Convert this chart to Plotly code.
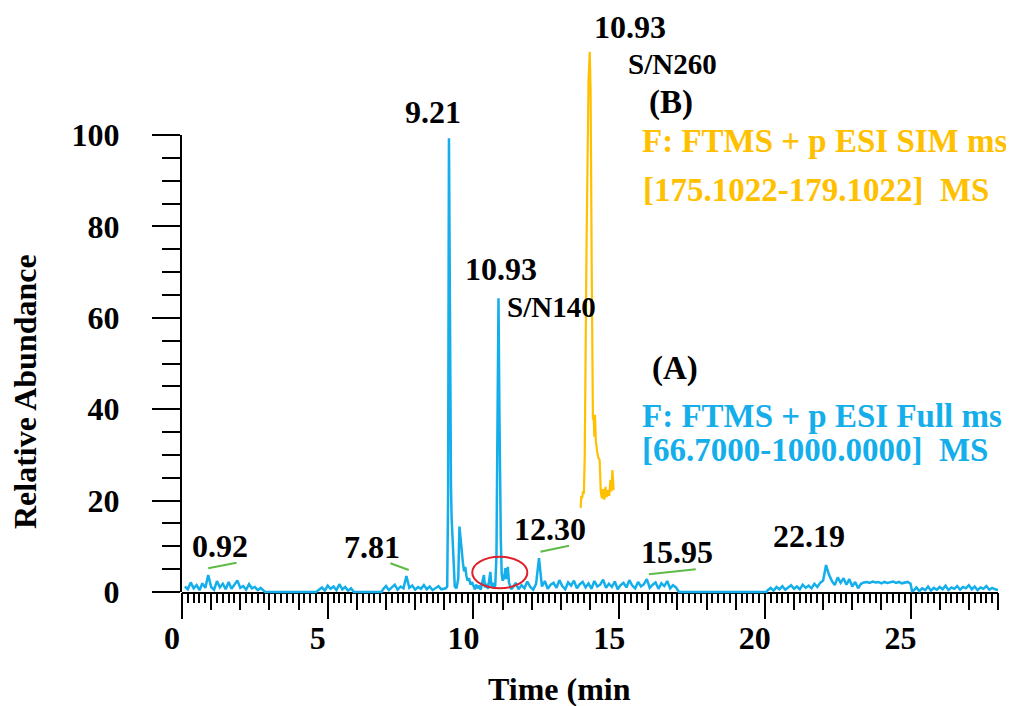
import plotly.graph_objects as go

# ---------------- data ----------------
# blue trace: Full ms TIC (A). Noise segments: start time, step 0.1 min, values
noise_a_start = 0.1
noise_a = [1.2, 0.6, 2.1, 0.8, 1.5, 0.4, 1.9, 0.9, 3.7, 1.1, 0.5, 2.4, 1.0, 1.8,
           0.6, 2.2, 0.7, 1.6, 2.5, 0.9, 1.3, 0.5, 1.7, 0.8, 1.1, 0.4, 0.9, 0.3]
noise_b_start = 4.7
noise_b = [0.5, 1.0, 0.3, 1.4, 0.7, 1.2, 0.4, 1.7, 0.6, 1.1, 0.3, 0.8]
noise_c_start = 6.9
noise_c = [0.6, 1.3, 0.4, 1.0, 1.6, 0.5, 1.2, 0.8, 3.5, 0.9, 1.4, 0.5, 1.1, 0.7,
           1.5, 0.6, 1.2, 0.4, 0.9, 1.3, 0.6, 0.8]
noise_d_start = 11.35
noise_d = [1.0, 2.0, 0.6, 1.5, 0.8, 2.3, 1.1, 0.5, 1.8, 7.4, 1.2, 2.4, 0.7, 1.6,
           2.0, 0.9, 2.6, 1.3, 0.6, 2.1, 1.4, 2.5, 0.8, 1.7, 2.2, 1.0, 1.9, 0.7,
           2.4, 1.2, 1.6, 2.7, 0.9, 1.8, 1.1, 2.3, 0.6, 1.5, 2.0, 1.0, 2.6, 1.4,
           0.8, 2.2, 1.2, 1.7, 2.8, 0.9, 1.6, 2.1, 0.7, 1.9, 1.3, 2.4, 0.8, 1.5, 1.0]
noise_e_start = 20.1
noise_e = [0.4, 0.9, 0.3, 1.1, 0.6, 1.3, 0.5, 1.0, 1.5, 0.7, 1.2, 0.6, 1.6, 0.9,
           1.4, 0.8, 1.8, 1.1, 2.0, 2.5, 5.9, 3.8, 2.4, 1.5, 3.2, 2.0, 3.0, 1.6,
           2.8, 1.2, 2.2, 0.8]
noise_f_start = 23.3
noise_f = [1.8, 2.1, 2.2, 2.0, 2.3, 2.1, 2.2, 1.9, 2.2, 2.0, 2.1, 2.3, 2.0, 2.2,
           1.9, 2.1, 2.2, 1.8]
noise_g_start = 25.1
noise_g = [0.3, 1.0, 0.2, 0.8, 0.4, 1.2, 0.3, 0.9, 0.5, 1.1, 0.6, 1.4, 0.4, 1.0,
           0.7, 1.3, 0.5, 1.1, 0.8, 1.5, 0.6, 1.2, 0.4, 1.0, 0.7, 1.3, 0.5, 0.9,
           0.6, 0.4]
noise_step = 0.1

# flat (zero-signal) stretches
gap_times = [2.85, 4.6, 5.9, 6.85, 17.05, 20.05, 25.05]
gap_values = [0, 0, 0, 0, 0, 0, 0.2]

# main peaks region 9.0 - 11.3 min
peak_times = [9.05, 9.10, 9.13, 9.16, 9.19, 9.21, 9.23, 9.25, 9.28, 9.31, 9.36,
              9.42, 9.48, 9.52, 9.56, 9.60, 9.64, 9.68, 9.72, 9.76, 9.80, 9.85,
              9.90, 9.95, 10.00, 10.05, 10.10, 10.15, 10.20, 10.25, 10.30, 10.36,
              10.40, 10.45, 10.50, 10.55, 10.58, 10.62, 10.66, 10.70, 10.75,
              10.79, 10.83, 10.86, 10.89, 10.91, 10.94, 10.97, 11.00, 11.05,
              11.10, 11.14, 11.18, 11.22, 11.26, 11.30]
peak_values = [0.8, 1.2, 20.0, 99.3, 60.0, 24.5, 23.0, 16.5, 12.9, 9.2, 1.2,
               0.8, 3.0, 14.3, 11.0, 9.2, 6.3, 4.5, 5.5, 3.5, 2.5, 3.0,
               1.6, 2.2, 1.2, 0.6, 1.6, 0.8, 1.4, 0.5, 2.0, 3.7,
               1.0, 1.8, 0.7, 2.5, 4.4, 1.2, 2.0, 0.8, 1.5,
               8.0, 50.0, 64.3, 40.0, 16.5, 11.4, 4.0, 2.5, 3.0,
               5.2, 2.8, 5.5, 2.0, 1.0, 0.6]

# orange trace: SIM ms (B), drawn offset as an inset
sim_times = [13.68, 13.70, 13.73, 13.76, 13.79, 13.82, 13.88, 13.95, 13.99, 14.02,
             14.06, 14.10, 14.13, 14.15, 14.17, 14.20, 14.24, 14.28, 14.33, 14.37,
             14.41, 14.45, 14.49, 14.53, 14.57, 14.62, 14.66, 14.70, 14.73, 14.77,
             14.81]
sim_values = [18.4, 21.0, 20.5, 22.0, 21.5, 30.0, 75.0, 112.0, 118.2, 110.0,
              70.0, 38.0, 37.6, 34.0, 38.8, 33.0, 31.0, 29.5, 28.9, 22.0,
              20.5, 22.5, 20.2, 23.0, 20.8, 22.3, 21.0, 24.5, 22.0, 26.7,
              22.3]

x_ticks_major = [0, 5, 10, 15, 20, 25]
y_ticks_major = [0, 20, 40, 60, 80, 100]

# ---------------- assemble blue trace ----------------
pts = []
for start, vals in [(noise_a_start, noise_a), (noise_b_start, noise_b),
                    (noise_c_start, noise_c), (noise_d_start, noise_d),
                    (noise_e_start, noise_e), (noise_f_start, noise_f),
                    (noise_g_start, noise_g)]:
    for i, v in enumerate(vals):
        pts.append((round(start + i * noise_step, 3), v))
pts += list(zip(gap_times, gap_values))
pts += list(zip(peak_times, peak_values))
pts.sort(key=lambda p: p[0])
blue_t = [p[0] for p in pts]
blue_v = [p[1] for p in pts]

# ---------------- layout geometry ----------------
OFF = 8                      # page body margin
W, H = 1014 - OFF, 706 - OFF
PLOT_L, PLOT_R, PLOT_T, PLOT_B = 182, 998, 10, 620   # screen pixels
L, R, T, B = PLOT_L - OFF, W - (PLOT_R - OFF), PLOT_T - OFF, H - (PLOT_B - OFF)
PW, PH = W - L - R, H - T - B
Y0_PX, Y100_PX = 592, 135
ppu = (Y0_PX - Y100_PX) / 100.0


def px(X):
    return (X - PLOT_L) / PW


def py(Y):
    return (PLOT_B - Y) / PH


BLUE = "#14AEEA"
ORANGE = "#FFC000"
GREEN = "#5DBB46"
RED = "#E0202A"
FONT = "Liberation Serif, Times New Roman, serif"

fig = go.Figure()
fig.add_trace(go.Scatter(x=blue_t, y=blue_v, mode="lines", xaxis="x", yaxis="y2",
                         line=dict(color=BLUE, width=2.5), showlegend=False))
fig.add_trace(go.Scatter(x=sim_times, y=sim_values, mode="lines", xaxis="x", yaxis="y2",
                         line=dict(color=ORANGE, width=2.2), showlegend=False))

tickfont = dict(family=FONT, size=32, color="black")

fig.update_layout(
    width=W, height=H, margin=dict(l=L, r=R, t=T, b=B, autoexpand=False),
    paper_bgcolor="white", plot_bgcolor="rgba(0,0,0,0)",
    xaxis=dict(domain=[0, 1], range=[0, 28], anchor="y", tickmode="array",
               tickvals=x_ticks_major, ticktext=[f"<b>{v}</b>" for v in x_ticks_major],
               ticks="outside", ticklen=25, tickwidth=2, tickcolor="black",
               showline=True, linewidth=2, linecolor="black", showgrid=False,
               zeroline=False, tickfont=tickfont, layer="below traces",
               ticklabelshift=-10, ticklabelstandoff=-8, automargin=False,
               minor=dict(tickmode="linear", tick0=0, dtick=0.2, ticks="outside",
                          ticklen=9, tickwidth=1.5, tickcolor="black", showgrid=False)),
    xaxis2=dict(overlaying="x", range=[0, 28], anchor="y", tickmode="linear",
                tick0=0, dtick=1, ticks="outside", ticklen=17, tickwidth=2,
                tickcolor="black", showticklabels=False, showline=False,
                showgrid=False, zeroline=False, layer="below traces", automargin=False),
    yaxis=dict(domain=[py(Y0_PX), py(Y100_PX)], range=[0, 100], anchor="x",
               tickmode="array", tickvals=y_ticks_major,
               ticktext=[f"<b>{v}</b>" for v in y_ticks_major],
               ticks="outside", ticklen=28, tickwidth=2, tickcolor="black",
               showline=True, linewidth=2, linecolor="black", showgrid=False,
               zeroline=False, tickfont=tickfont, layer="below traces",
               ticklabelstandoff=26, automargin=False,
               minor=dict(tickmode="linear", tick0=0, dtick=5, ticks="outside",
                          ticklen=18, tickwidth=2, tickcolor="black", showgrid=False)),
    yaxis2=dict(domain=[0, 1], range=[-(PLOT_B - Y0_PX) / ppu, (Y0_PX - PLOT_T) / ppu],
                anchor="x", visible=False, showgrid=False, zeroline=False,
                automargin=False),
)

# dummy trace so xaxis2 is drawn
fig.add_trace(go.Scatter(x=[0], y=[0], xaxis="x2", yaxis="y", mode="markers",
                         marker=dict(opacity=0), showlegend=False, hoverinfo="skip"))

# decorations: red ellipse, green marker lines (data coordinates)
fig.add_shape(type="circle", xref="x", yref="y2", x0=9.96, x1=11.85, y0=0.8, y1=7.7,
              line=dict(color=RED, width=2))
for (xa, ya, xb, yb) in [(0.90, 5.2, 1.87, 6.4), (7.15, 6.3, 7.78, 4.8),
                         (12.30, 8.8, 13.28, 10.1), (16.02, 3.9, 17.63, 5.0)]:
    fig.add_shape(type="line", xref="x", yref="y2", x0=xa, y0=ya, x1=xb, y1=yb,
                  line=dict(color=GREEN, width=2))


def ann(text, X, Y, size=32, color="black", xanchor="center", angle=0):
    fig.add_annotation(text=f"<b>{text}</b>", x=px(X), y=py(Y), xref="paper",
                       yref="paper", showarrow=False, xanchor=xanchor,
                       yanchor="middle", textangle=angle,
                       font=dict(family=FONT, size=size, color=color))


# peak labels
ann("9.21", 433, 112)
ann("10.93", 501, 269)
ann("S/N140", 505, 307, size=29, xanchor="left")
ann("10.93", 592, 27, xanchor="left")
ann("S/N260", 626, 64, size=29, xanchor="left")
ann("0.92", 220, 546)
ann("7.81", 372, 547)
ann("12.30", 550, 529)
ann("15.95", 677, 552)
ann("22.19", 809, 536)
# legends
ann("(B)", 647, 102, size=33, xanchor="left")
ann("F: FTMS + p ESI SIM ms", 640, 141, size=33, color=ORANGE, xanchor="left")
ann("[175.1022-179.1022]\u00a0 MS", 641, 190, size=33, color=ORANGE, xanchor="left")
ann("(A)", 650, 368, size=33, xanchor="left")
ann("F: FTMS + p ESI Full ms", 640, 416, size=33, color=BLUE, xanchor="left")
ann("[66.7000-1000.0000]\u00a0 MS", 640, 450, size=33, color=BLUE, xanchor="left")
# axis titles
ann("Relative Abundance", 25, 392, angle=-90)
ann("Time (min", 559, 689)

fig.write_html("out.html")
